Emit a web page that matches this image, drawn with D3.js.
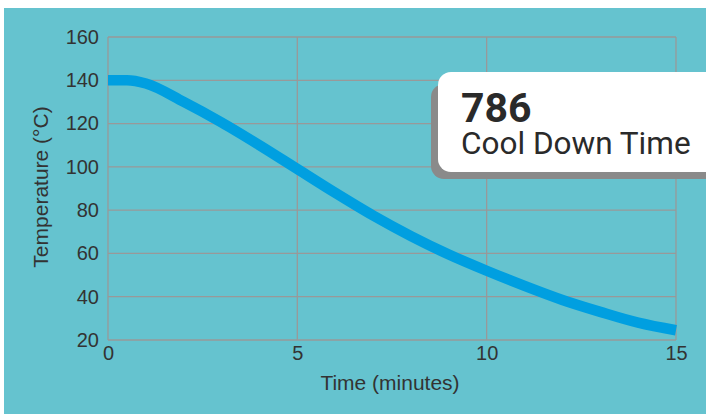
<!DOCTYPE html>
<html>
<head>
<meta charset="utf-8">
<script src="https://cdn.jsdelivr.net/npm/d3@7"></script>
<style>
  body { margin: 0; background: #fff; }
  svg { display: block; }
</style>
</head>
<body>
<script>
// data
var minutes = [0, 0.5, 1, 2, 3, 4, 5, 6, 7, 8, 9, 10, 11, 12, 13, 14, 15];
var temps = [140, 140, 138.5, 130, 120.5, 110, 99, 88, 77.5, 68, 59.5, 52, 45, 38.5, 33, 28, 24.5];
var xTicks = [0, 5, 10, 15];
var yTicks = [20, 40, 60, 80, 100, 120, 140, 160];
var calloutValue = '786';
var calloutLabel = 'Cool Down Time';

var W = 706, H = 414;
var m = { left: 108, right: 676, top: 37, bottom: 340 };
var font = "'Liberation Sans', Arial, sans-serif";

var svg = d3.select('body').append('svg')
    .attr('width', W)
    .attr('height', H);

// teal panel
svg.append('rect')
    .attr('x', 4).attr('y', 8)
    .attr('width', W - 4).attr('height', H - 8)
    .attr('fill', '#65c3cf');

//scales
var xscale = d3.scaleLinear().domain([0, 15]).range([m.left, m.right]);
var yscale = d3.scaleLinear().domain([20, 160]).range([m.bottom, m.top]);

//grid lines
var grid = svg.append('g')
    .attr('stroke', '#999')
    .attr('stroke-width', 1.3)
    .attr('fill', 'none');
grid.selectAll('line.h')
    .data(yTicks)
    .enter().append('line')
        .attr('x1', m.left).attr('x2', m.right)
        .attr('y1', function (d) { return yscale(d); })
        .attr('y2', function (d) { return yscale(d); });
grid.selectAll('line.v')
    .data(xTicks)
    .enter().append('line')
        .attr('y1', m.top).attr('y2', m.bottom)
        .attr('x1', function (d) { return xscale(d); })
        .attr('x2', function (d) { return xscale(d); });

//axes (labels only, no domain/ticks)
var yaxis = d3.axisLeft(yscale).tickValues(yTicks).tickSize(0).tickPadding(9);
var xaxis = d3.axisBottom(xscale).tickValues(xTicks).tickSize(0).tickPadding(6);

svg.append('g')
    .attr('transform', 'translate(' + m.left + ',0)')
    .call(yaxis)
    .call(function (g) { g.select('.domain').remove(); })
    .selectAll('text')
        .attr('font-family', font)
        .attr('font-size', '20px')
        .attr('fill', '#333');

svg.append('g')
    .attr('transform', 'translate(0,' + m.bottom + ')')
    .call(xaxis)
    .call(function (g) { g.select('.domain').remove(); })
    .selectAll('text')
        .attr('font-family', font)
        .attr('font-size', '20px')
        .attr('fill', '#333');

//axis titles
svg.append('text')
    .attr('x', 390)
    .attr('y', 390)
    .attr('text-anchor', 'middle')
    .attr('font-family', font)
    .attr('font-size', '21px')
    .attr('fill', '#333')
    .text('Time (minutes)');

svg.append('text')
    .attr('transform', 'translate(48,187) rotate(-90)')
    .attr('text-anchor', 'middle')
    .attr('font-family', font)
    .attr('font-size', '21px')
    .attr('fill', '#333')
    .text('Temperature (°C)');

//cooling curve
var line = d3.line()
    .x(function (d, i) { return xscale(minutes[i]); })
    .y(function (d) { return yscale(d); })
    .curve(d3.curveMonotoneX);

svg.append('path')
    .datum(temps)
    .attr('d', line)
    .attr('fill', 'none')
    .attr('stroke', '#009fe0')
    .attr('stroke-width', 10.5);

//callout box with shadow
svg.append('rect')
    .attr('x', 431).attr('y', 84)
    .attr('width', 320).attr('height', 95)
    .attr('rx', 13)
    .attr('fill', '#8a8a8a');
svg.append('rect')
    .attr('x', 438).attr('y', 72)
    .attr('width', 320).attr('height', 100)
    .attr('rx', 13)
    .attr('fill', '#fff');

svg.append('text')
    .attr('x', 461).attr('y', 122)
    .attr('font-family', 'Roboto, sans-serif')
    .attr('font-weight', 'bold')
    .attr('font-size', '41px')
    .attr('fill', '#2a2a2a')
    .text(calloutValue);
svg.append('text')
    .attr('x', 461).attr('y', 154)
    .attr('font-family', 'Roboto, sans-serif')
    .attr('font-size', '31.5px')
    .attr('fill', '#2a2a2a')
    .text(calloutLabel);
</script>
</body>
</html>
